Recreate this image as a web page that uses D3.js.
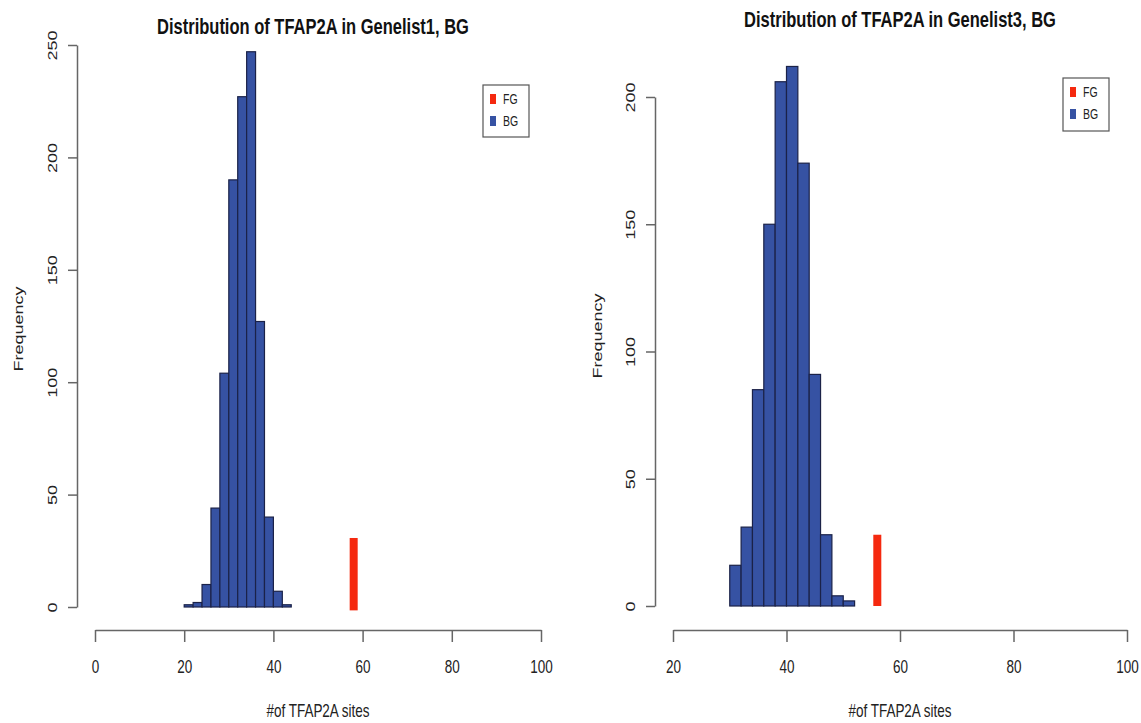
<!DOCTYPE html>
<html>
<head>
<meta charset="utf-8">
<script src="https://cdn.jsdelivr.net/npm/d3@7"></script>
<style>
  body { margin: 0; background: #fff; }
  svg { display: block; font-family: "Liberation Sans", Arial, Helvetica, sans-serif; }
</style>
</head>
<body>
<svg id="chart"></svg>
<script>
const size = {w: 1141, h: 723};

// histogram counts, bins of width 2
const binWidth = 2;
const leftBinStart = 20;
const leftCounts = [1, 2, 10, 44, 104, 190, 227, 247, 127, 40, 7, 1];
const rightBinStart = 30;
const rightCounts = [16, 31, 85, 150, 206, 212, 174, 91, 28, 4, 2];

// foreground value (red bar) and its drawn extent in frequency units
const fgValues = [58, 56];
const fgSpans = [[-1.5, 30.7], [0, 28]];

const titles = ['Distribution of TFAP2A in Genelist1, BG', 'Distribution of TFAP2A in Genelist3, BG'];
const xLabel = '#of TFAP2A sites';
const yLabel = 'Frequency';
const leftXTicks = [0, 20, 40, 60, 80, 100];
const rightXTicks = [20, 40, 60, 80, 100];
const leftYTicks = [0, 50, 100, 150, 200, 250];
const rightYTicks = [0, 50, 100, 150, 200];
const legendLabels = ['FG', 'BG'];

const blue = '#3652a3';
const red = '#f5290f';
const sx = 0.75; // the picture is squeezed horizontally

// panel geometry
const panels = [
  {
    counts: leftCounts, start: leftBinStart, fg: fgValues[0], fgSpan: fgSpans[0],
    title: titles[0], xTicks: leftXTicks, yTicks: leftYTicks,
    xRange: [95, 541], yRange: [607, 45], yAxisX: 77, xAxisY: 630,
    titlePos: [313, 34], ylabPos: [18, 329], xlabPos: [318, 717],
    legend: {x: 483, y: 85, w: 46, h: 52}
  },
  {
    counts: rightCounts, start: rightBinStart, fg: fgValues[1], fgSpan: fgSpans[1],
    title: titles[1], xTicks: rightXTicks, yTicks: rightYTicks,
    xRange: [673, 1127], yRange: [606, 97], yAxisX: 655, xAxisY: 630,
    titlePos: [900, 27], ylabPos: [597, 336], xlabPos: [900, 717],
    legend: {x: 1063, y: 78, w: 46, h: 53}
  }
];

const svg = d3.select('svg#chart')
  .attr('width', size.w)
  .attr('height', size.h);

panels.forEach(drawPanel);

function drawPanel(p) {
  const g = svg.append('g');

  const x = d3.scaleLinear()
    .domain([p.xTicks[0], p.xTicks[p.xTicks.length - 1]])
    .range(p.xRange);
  const y = d3.scaleLinear()
    .domain([p.yTicks[0], p.yTicks[p.yTicks.length - 1]])
    .range(p.yRange);

  const bins = p.counts.map((c, i) => ({x0: p.start + i * binWidth, x1: p.start + (i + 1) * binWidth, n: c}));

  // bars
  g.selectAll('rect.bar')
    .data(bins)
    .join('rect')
    .classed('bar', true)
    .attr('x', d => x(d.x0))
    .attr('y', d => y(d.n))
    .attr('width', d => x(d.x1) - x(d.x0))
    .attr('height', d => y(0) - y(d.n))
    .attr('fill', blue)
    .attr('stroke', '#1b2248')
    .attr('stroke-width', 1.2);

  // FG bar
  g.append('rect')
    .attr('x', x(p.fg) - 4)
    .attr('width', 8)
    .attr('y', y(p.fgSpan[1]))
    .attr('height', y(p.fgSpan[0]) - y(p.fgSpan[1]))
    .attr('fill', red);

  // y axis
  const yAxis = g.append('g')
    .attr('transform', `translate(${p.yAxisX},0)`)
    .call(d3.axisLeft(y).tickValues(p.yTicks).tickSize(9).tickSizeOuter(0));
  yAxis.selectAll('text')
    .attr('x', null).attr('dy', null)
    .attr('transform', `translate(-25,0) scale(${sx},1) rotate(-90)`)
    .attr('text-anchor', 'middle')
    .attr('dominant-baseline', 'central');

  // x axis
  const xAxis = g.append('g')
    .attr('transform', `translate(0,${p.xAxisY})`)
    .call(d3.axisBottom(x).tickValues(p.xTicks).tickSize(12).tickSizeOuter(0));
  xAxis.selectAll('text')
    .attr('y', 43).attr('dy', null)
    .attr('transform', `scale(${sx},1)`);

  g.selectAll('.domain, .tick line')
    .attr('stroke', '#666')
    .attr('stroke-width', 1.5);
  g.selectAll('.tick text')
    .attr('fill', '#222')
    .style('font-size', '18px');

  // title and axis labels
  g.append('text')
    .attr('transform', `translate(${p.titlePos[0]},${p.titlePos[1]}) scale(${sx},1)`)
    .attr('text-anchor', 'middle')
    .style('font-size', '22px')
    .style('font-weight', 'bold')
    .attr('fill', '#111')
    .text(p.title);

  g.append('text')
    .attr('transform', `translate(${p.xlabPos[0]},${p.xlabPos[1]}) scale(${sx},1)`)
    .attr('text-anchor', 'middle')
    .style('font-size', '18px')
    .attr('fill', '#222')
    .text(xLabel);

  g.append('text')
    .attr('transform', `translate(${p.ylabPos[0]},${p.ylabPos[1]}) scale(${sx},1) rotate(-90)`)
    .attr('text-anchor', 'middle')
    .attr('dominant-baseline', 'central')
    .style('font-size', '18px')
    .attr('fill', '#222')
    .text(yLabel);

  // legend
  const lg = g.append('g')
    .attr('transform', `translate(${p.legend.x},${p.legend.y})`);
  lg.append('rect')
    .attr('width', p.legend.w)
    .attr('height', p.legend.h)
    .attr('fill', '#fff')
    .attr('stroke', '#555')
    .attr('stroke-width', 1.2);
  const items = lg.selectAll('g.item')
    .data(legendLabels)
    .join('g')
    .classed('item', true)
    .attr('transform', (d, i) => `translate(0,${14 + i * 22})`);
  items.append('rect')
    .attr('x', 7).attr('y', -5)
    .attr('width', 6).attr('height', 10)
    .attr('fill', (d, i) => i === 0 ? red : blue);
  items.append('text')
    .attr('transform', `translate(20,0) scale(${sx},1)`)
    .attr('dominant-baseline', 'central')
    .style('font-size', '14px')
    .attr('fill', '#222')
    .text(d => d);
}
</script>
</body>
</html>
